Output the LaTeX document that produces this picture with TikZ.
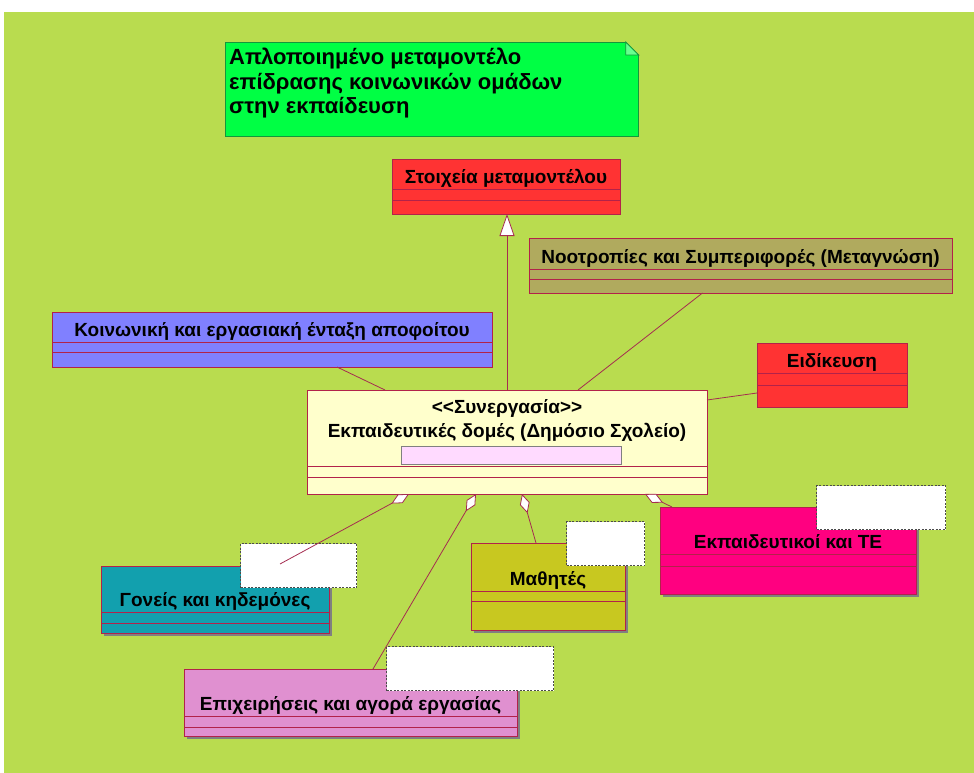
\documentclass[tikz,border=0pt]{standalone}
\usepackage{fontspec}
\setmainfont{Liberation Sans}
\usetikzlibrary{positioning,arrows.meta,fit,backgrounds,calc}

\definecolor{lawn}{RGB}{185,220,79}
\definecolor{notegreen}{RGB}{0,255,68}
\definecolor{notedge}{RGB}{20,150,60}
\definecolor{edge}{RGB}{178,34,74}
\definecolor{wirecol}{RGB}{165,45,80}
\definecolor{metared}{RGB}{255,51,51}
\definecolor{olivebox}{RGB}{176,170,94}
\definecolor{lilac}{RGB}{128,128,255}
\definecolor{cream}{RGB}{255,255,204}
\definecolor{slotpink}{RGB}{255,218,255}
\definecolor{tealbox}{RGB}{18,160,174}
\definecolor{mustard}{RGB}{200,200,32}
\definecolor{hotpink}{RGB}{255,0,128}
\definecolor{orchid}{RGB}{224,144,208}

\begin{document}
\begin{tikzpicture}[
  x=1pt, y=-1pt,
  font=\bfseries\fontsize{19}{22}\selectfont,
  cls/.style={rectangle, draw=edge, line width=0.9pt, inner sep=0pt, outer sep=0pt},
  hd/.style n args={3}{cls, fill=#1, minimum width=#2pt, text height=#3pt,
                       text depth=6pt, anchor=north west},
  cmp/.style n args={3}{cls, fill=#1, minimum width=#2pt, minimum height=#3pt},
  shadowbox/.style={rectangle, fill=gray, inner sep=0pt, xshift=3pt, yshift=-3pt},
  lbl/.style n args={2}{rectangle, fill=white, draw=black!70, line width=1pt,
                        dash pattern=on 2pt off 1.5pt, anchor=north west,
                        minimum width=#1pt, minimum height=#2pt, inner sep=0pt},
  notebox/.style={rectangle, fill=notegreen, draw=notedge, line width=0.8pt,
                  anchor=north west, minimum width=413pt, minimum height=94pt,
                  inner sep=0pt},
  wire/.style={draw=wirecol, line width=0.8pt},
  gen/.style={wire, -{Triangle[length=22pt,width=15pt,fill=white]}},
  aggr/.style={wire, -{Diamond[length=20pt,width=10pt,fill=white]}},
]
\useasboundingbox (0,0) rectangle (974,773);
\begin{scope}[on background layer]
  \fill[white] (0,0) rectangle (974,773);
  \fill[lawn] (4,12) rectangle (974,773);
\end{scope}

% note
\node[notebox] (note) at (225,42) {};
\fill[lawn] ([xshift=-13pt]note.north east) -- (note.north east)
  -- ([yshift=-13pt]note.north east) -- cycle;
\draw[notedge, fill=notegreen!60!white, line width=0.8pt]
  ([xshift=-13pt]note.north east) -- ([xshift=-13pt,yshift=-13pt]note.north east)
  -- ([yshift=-13pt]note.north east) -- cycle;
\node[anchor=north west, inner sep=0pt, align=left,
      font=\bfseries\fontsize{22}{24.5}\selectfont] (notetxt)
  at ([xshift=4pt,yshift=-6pt]note.north west)
  {Απλοποιημένο μεταμοντέλο\\επίδρασης κοινωνικών ομάδων\\στην εκπαίδευση};

% top classes
\node[hd={metared}{228}{24}] (meta) at (392,159) {Στοιχεία μεταμοντέλου};
\node[cmp={metared}{228}{11}, below=0pt of meta] (meta2) {};
\node[cmp={metared}{228}{14}, below=0pt of meta2] (meta3) {};

\node[hd={olivebox}{423}{25}] (noot) at (529,238) {Νοοτροπίες και Συμπεριφορές (Μεταγνώση)};
\node[cmp={olivebox}{423}{10}, below=0pt of noot] (noot2) {};
\node[cmp={olivebox}{423}{14}, below=0pt of noot2] (noot3) {};

\node[hd={lilac}{440}{24}] (koin) at (52,312) {Κοινωνική και εργασιακή ένταξη αποφοίτου};
\node[cmp={lilac}{440}{10}, below=0pt of koin] (koin2) {};
\node[cmp={lilac}{440}{15}, below=0pt of koin2] (koin3) {};

\node[hd={metared}{150}{24}] (eid) at (757,343) {Ειδίκευση};
\node[cmp={metared}{150}{12}, below=0pt of eid] (eid2) {};
\node[cmp={metared}{150}{22}, below=0pt of eid2] (eid3) {};

% central class
\node[hd={cream}{400}{70}] (cen) at (307,390) {};
\node[cmp={cream}{400}{11}, below=0pt of cen] (cen2) {};
\node[cmp={cream}{400}{17}, below=0pt of cen2] (cen3) {};
\node[anchor=base, inner sep=0pt] (censt) at ([yshift=-23pt]cen.north)
  {<\kern0pt<Συνεργασία>\kern0pt>};
\node[anchor=base, inner sep=0pt] (cenname) at ([yshift=-47pt]cen.north)
  {Εκπαιδευτικές δομές (Δημόσιο Σχολείο)};
\node[rectangle, fill=slotpink, draw=gray, line width=0.8pt, anchor=north west,
      minimum width=220pt, minimum height=18pt, inner sep=0pt] (slot)
  at ([xshift=94pt,yshift=-56pt]cen.north west) {};

% bottom classes
\node[hd={tealbox}{228}{40}] (gon) at (101,566) {Γονείς και κηδεμόνες};
\node[cmp={tealbox}{228}{11}, below=0pt of gon] (gon2) {};
\node[cmp={tealbox}{228}{10}, below=0pt of gon2] (gon3) {};

\node[hd={mustard}{154}{42}] (math) at (471,543) {Μαθητές};
\node[cmp={mustard}{154}{10}, below=0pt of math] (math2) {};
\node[cmp={mustard}{154}{29}, below=0pt of math2] (math3) {};

\node[hd={hotpink}{256}{41}] (ekp) at (660,507) {Εκπαιδευτικοί και ΤΕ};
\node[cmp={hotpink}{256}{12}, below=0pt of ekp] (ekp2) {};
\node[cmp={hotpink}{256}{28}, below=0pt of ekp2] (ekp3) {};

\node[hd={orchid}{333}{41}] (epix) at (184,669) {Επιχειρήσεις και αγορά εργασίας};
\node[cmp={orchid}{333}{11}, below=0pt of epix] (epix2) {};
\node[cmp={orchid}{333}{9}, below=0pt of epix2] (epix3) {};

\begin{scope}[on background layer]
  \node[shadowbox, fit=(gon)(gon3)] (gonsh) {};
  \node[shadowbox, fit=(math)(math3)] (mathsh) {};
  \node[shadowbox, fit=(ekp)(ekp3)] (ekpsh) {};
  \node[shadowbox, fit=(epix)(epix3)] (epixsh) {};
\end{scope}

% empty labels
\node[lbl={116}{44}] (gonlbl) at (240,543) {};
\node[lbl={78}{44}] (mathlbl) at (566,521) {};
\node[lbl={129}{44}] (ekplbl) at (816,485) {};
\node[lbl={167}{44}] (epixlbl) at (386,646) {};

% connectors
\draw[gen] (cen.north) -- (cen.north |- meta3.south);
\draw[wire] ([xshift=71pt]cen.north) -- ([xshift=-38pt]noot3.south);
\draw[wire] ([xshift=-122pt]cen.north) -- ([xshift=65pt]koin3.south);
\draw[wire] ([yshift=28pt]cen.east) -- ([yshift=3pt]eid3.west);
\draw[aggr] ([xshift=-49pt,yshift=2pt]gon.north east) -- ([xshift=102pt]cen3.south west);
\draw[aggr] ([xshift=189pt]epix.north west) -- ([xshift=169pt]cen3.south west);
\draw[aggr] ([xshift=65pt]math.north west) -- ([xshift=215pt]cen3.south west);
\draw[aggr] ([xshift=12pt]ekp.north west) -- ([xshift=338pt]cen3.south west);
\end{tikzpicture}
\end{document}
